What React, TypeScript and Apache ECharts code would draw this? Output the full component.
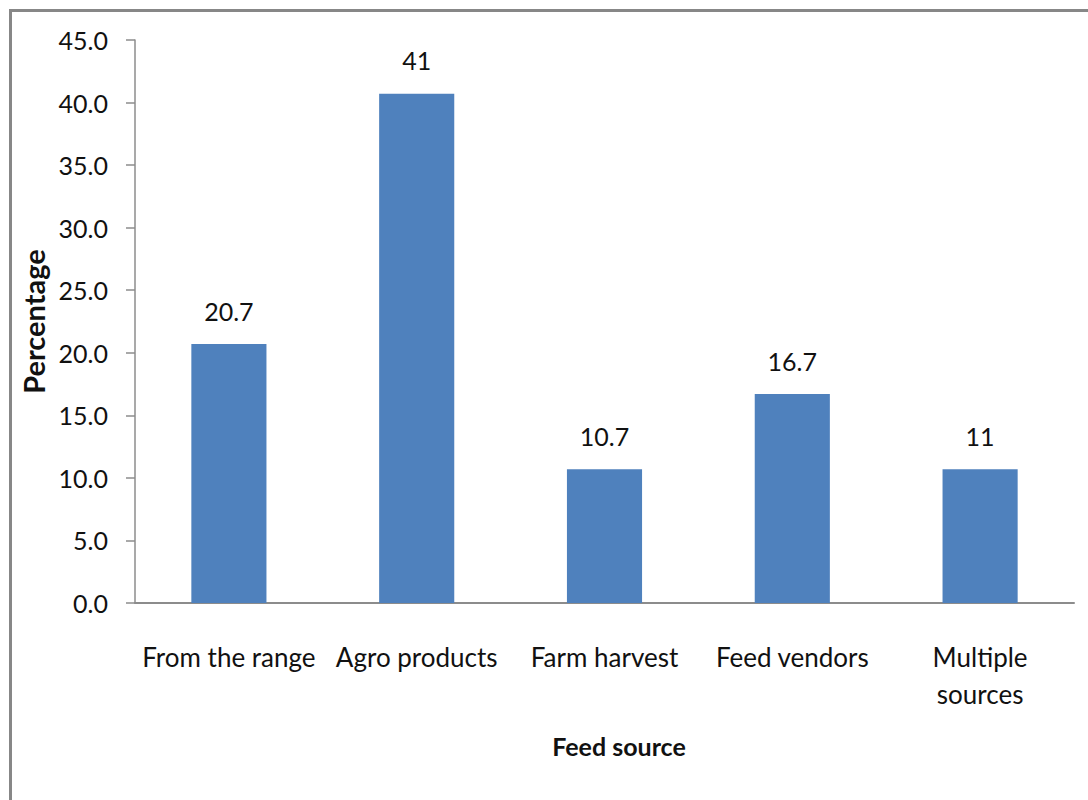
import React, { useEffect, useRef } from "react";
import * as echarts from "echarts";

const categories = ["From the range", "Agro products", "Farm harvest", "Feed vendors", "Multiple\nsources"];
const values = [20.7, 40.7, 10.7, 16.7, 10.7];
const valueLabels = ["20.7", "41", "10.7", "16.7", "11"];
const yTicks = { min: 0, max: 45, interval: 5 };
const xTitle = "Feed source";
const yTitle = "Percentage";

const FONT = "Lato";

export default function App() {
  const ref = useRef<HTMLDivElement>(null);
  useEffect(() => {
    if (!ref.current) return;
    const chart = echarts.init(ref.current, undefined, { renderer: "svg" });
    chart.setOption({
      animation: false,
      backgroundColor: "#ffffff",
      textStyle: { fontFamily: FONT },
      graphic: [
        {
          type: "rect",
          shape: { x: 10.5, y: 10.5, width: 1200, height: 1000 },
          style: { fill: "none", stroke: "#878787", lineWidth: 3 },
          silent: true,
        },
      ],
      grid: { left: 135, right: 14, top: 40, bottom: 197 },
      xAxis: {
        type: "category",
        data: categories,
        axisLine: { lineStyle: { color: "#8c8c8c", width: 2 } },
        axisTick: { show: false },
        axisLabel: { interval: 0, fontSize: 26, color: "#111", margin: 35, lineHeight: 37, fontFamily: FONT },
        name: xTitle,
        nameLocation: "middle",
        nameGap: 130,
        nameTextStyle: { fontSize: 25, fontWeight: "bold", color: "#111", fontFamily: FONT, padding: [0, 0, 0, 29] },
      },
      yAxis: {
        type: "value",
        min: yTicks.min,
        max: yTicks.max,
        interval: yTicks.interval,
        axisLine: { show: true, lineStyle: { color: "#8c8c8c", width: 1.5 } },
        axisTick: { show: true, length: 9, lineStyle: { color: "#8c8c8c", width: 1.5 } },
        splitLine: { show: false },
        axisLabel: { fontSize: 25, color: "#111", margin: 27, formatter: (v: number) => v.toFixed(1), fontFamily: FONT },
        name: yTitle,
        nameLocation: "middle",
        nameGap: 86,
        nameTextStyle: { fontSize: 29, fontWeight: "bold", color: "#111", fontFamily: FONT },
      },
      series: [
        {
          type: "bar",
          data: values,
          barWidth: "40%",
          itemStyle: { color: "#4F81BD" },
          label: {
            show: true,
            position: "top",
            distance: 21,
            fontSize: 25,
            color: "#111",
            fontFamily: FONT,
            formatter: (p: any) => valueLabels[p.dataIndex],
          },
        },
      ],
    });
    return () => chart.dispose();
  }, []);
  return <div ref={ref} style={{ position: "fixed", left: 0, top: 0, width: 1088, height: 800 }} />;
}
